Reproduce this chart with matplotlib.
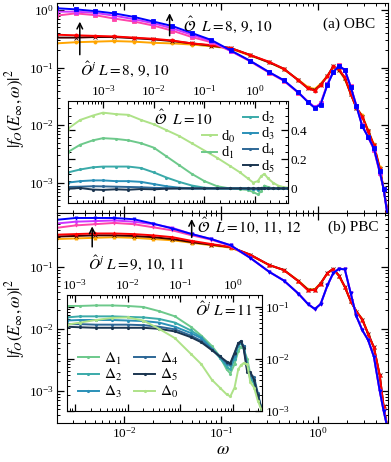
import numpy as np
import matplotlib
matplotlib.use('Agg')
import matplotlib.pyplot as plt
from matplotlib.ticker import LogLocator, NullFormatter, FixedLocator, AutoMinorLocator

plt.rcParams['font.family'] = 'serif'
plt.rcParams['font.serif'] = ['Liberation Serif', 'DejaVu Serif']
plt.rcParams['mathtext.fontset'] = 'stix'

# ---- main panels: log10(omega) grid, log10 |f|^2 values
log_w = [-2.7, -2.5, -2.3, -2.1, -1.9, -1.7, -1.5, -1.3, -1.1, -0.9, -0.7, -0.5, -0.35, -0.2, -0.1,
         -0.03, 0.03, 0.1, 0.16, 0.22, 0.28, 0.34, 0.4, 0.46, 0.52, 0.58, 0.64, 0.68, 0.72]

# (a) OBC
obc_O_L8 = [-0.10, -0.06, -0.09, -0.15, -0.20, -0.27, -0.36, -0.47, -0.56, -0.71, -0.89, -1.09, -1.23, -1.44, -1.59,
            -1.69, -1.62, -1.28, -1.07, -0.96, -1.05, -1.32, -1.66, -2.00, -2.20, -2.42, -2.82, -3.10, -3.55]
obc_O_L9 = [-0.03, -0.03, -0.05, -0.10, -0.16, -0.23, -0.32, -0.43, -0.54, -0.71, -0.88, -1.08, -1.22, -1.43, -1.59,
            -1.69, -1.63, -1.29, -1.08, -0.97, -1.04, -1.33, -1.67, -2.01, -2.20, -2.41, -2.81, -3.10, -3.55]
obc_O_L10 = [0.03, 0.01, -0.02, -0.06, -0.12, -0.20, -0.28, -0.40, -0.52, -0.70, -0.88, -1.08, -1.22, -1.43, -1.60,
             -1.70, -1.64, -1.30, -1.08, -0.97, -1.04, -1.33, -1.67, -2.02, -2.20, -2.40, -2.80, -3.10, -3.55]
obc_Oj_L8 = [-0.58, -0.56, -0.55, -0.54, -0.55, -0.57, -0.58, -0.60, -0.63, -0.67, -0.79, -0.91, -1.03, -1.21, -1.34,
             -1.37, -1.28, -1.14, -0.99, -1.05, -1.20, -1.45, -1.70, -1.83, -2.08, -2.33, -2.72, -3.10, -3.50]
obc_Oj_L9 = [-0.48, -0.48, -0.47, -0.47, -0.49, -0.51, -0.54, -0.58, -0.62, -0.66, -0.78, -0.91, -1.02, -1.22, -1.36,
             -1.39, -1.30, -1.15, -0.98, -1.04, -1.18, -1.45, -1.70, -1.85, -2.10, -2.35, -2.75, -3.10, -3.50]
obc_Oj_L10 = [-0.43, -0.44, -0.45, -0.46, -0.48, -0.50, -0.53, -0.58, -0.61, -0.66, -0.78, -0.90, -1.02, -1.22, -1.36,
              -1.40, -1.30, -1.15, -0.98, -1.03, -1.17, -1.45, -1.70, -1.85, -2.10, -2.35, -2.75, -3.10, -3.50]

# (b) PBC
pbc_O_L10 = [-0.37, -0.33, -0.31, -0.29, -0.31, -0.36, -0.41, -0.49, -0.56, -0.66, -0.85, -1.08, -1.22, -1.43, -1.60,
             -1.68, -1.60, -1.30, -1.10, -1.03, -1.04, -1.42, -1.80, -2.02, -2.18, -2.45, -3.00, -3.32, -3.60]
pbc_O_L11 = [-0.30, -0.27, -0.26, -0.25, -0.27, -0.31, -0.37, -0.47, -0.55, -0.65, -0.85, -1.08, -1.22, -1.43, -1.60,
             -1.68, -1.60, -1.30, -1.10, -1.03, -1.04, -1.42, -1.80, -2.02, -2.18, -2.45, -3.00, -3.32, -3.60]
pbc_O_L12 = [-0.24, -0.21, -0.21, -0.21, -0.23, -0.30, -0.38, -0.47, -0.55, -0.65, -0.85, -1.08, -1.22, -1.43, -1.60,
             -1.68, -1.60, -1.30, -1.10, -1.03, -1.04, -1.42, -1.80, -2.02, -2.18, -2.45, -3.00, -3.32, -3.60]
pbc_Oj_L9 = [-0.55, -0.54, -0.53, -0.52, -0.53, -0.55, -0.57, -0.61, -0.65, -0.69, -0.81, -0.97, -1.05, -1.22, -1.36,
             -1.36, -1.26, -1.10, -1.04, -1.15, -1.33, -1.55, -1.72, -1.84, -2.07, -2.30, -2.75, -3.25, -3.60]
pbc_Oj_L10 = [-0.51, -0.50, -0.49, -0.49, -0.50, -0.52, -0.55, -0.60, -0.64, -0.68, -0.80, -0.97, -1.05, -1.23, -1.37,
              -1.37, -1.27, -1.10, -1.03, -1.14, -1.32, -1.55, -1.72, -1.85, -2.08, -2.30, -2.75, -3.25, -3.60]
pbc_Oj_L11 = [-0.48, -0.47, -0.46, -0.46, -0.47, -0.49, -0.52, -0.58, -0.63, -0.68, -0.80, -0.97, -1.05, -1.23, -1.38,
              -1.37, -1.27, -1.10, -1.03, -1.14, -1.32, -1.55, -1.72, -1.85, -2.08, -2.30, -2.75, -3.25, -3.60]

# ---- inset (a): log10(omega) grid and linear values d_n
log_w_ia = [-3.69, -3.45, -3.2, -3.0, -2.75, -2.5, -2.25, -2.0, -1.75, -1.5, -1.25, -1.0, -0.75, -0.5, -0.3,
            -0.15, -0.04, 0.05, 0.12, 0.18, 0.25, 0.35, 0.45, 0.55, 0.65]
d0 = [0.41, 0.47, 0.50, 0.52, 0.51, 0.505, 0.47, 0.44, 0.40, 0.36, 0.31, 0.26, 0.21, 0.155, 0.11,
      0.07, 0.04, 0.05, 0.085, 0.10, 0.07, 0.04, 0.02, 0.01, 0.005]
d1 = [0.25, 0.30, 0.33, 0.345, 0.34, 0.33, 0.31, 0.28, 0.22, 0.16, 0.10, 0.05, 0.015, 0.0, -0.005,
      -0.01, -0.025, -0.04, -0.02, 0.02, 0.01, 0.0, 0.0, 0.0, 0.0]
d2 = [0.11, 0.13, 0.145, 0.15, 0.15, 0.15, 0.14, 0.11, 0.075, 0.045, 0.02, 0.005, 0.0, 0.0, 0.0,
      -0.003, -0.005, -0.008, 0.0, 0.005, 0.0, 0.0, 0.0, 0.0, 0.0]
d3 = [0.04, 0.05, 0.055, 0.055, 0.05, 0.05, 0.045, 0.03, 0.015, 0.005, 0.0, 0.0, 0.0, 0.0, 0.0,
      0.0, -0.003, -0.004, 0.0, 0.003, 0.0, 0.0, 0.0, 0.0, 0.0]
d4 = [0.01, 0.012, 0.015, 0.014, 0.012, 0.01, 0.008, 0.004, 0.002, 0.0, 0.0, 0.0, 0.0, 0.0, 0.0,
      0.0, 0.0, 0.0, 0.0, 0.0, 0.0, 0.0, 0.0, 0.0, 0.0]
d5 = [-0.002, 0.003, -0.008, -0.01, -0.006, -0.009, -0.004, -0.006, -0.002, 0.0, 0.0, 0.0, 0.0, 0.0, 0.0,
      0.0, 0.0, 0.0, 0.0, 0.0, 0.0, 0.0, 0.0, 0.0, 0.0]

# ---- inset (b): log10(omega) grid and log10 values Delta_n
log_w_ib = [-3.15, -2.9, -2.6, -2.3, -2.0, -1.7, -1.4, -1.1, -0.8, -0.6, -0.4, -0.25, -0.12, -0.05, 0.03,
            0.1, 0.15, 0.2, 0.27, 0.33, 0.4, 0.47, 0.55]
D1 = [-0.98, -0.98, -0.97, -0.97, -0.98, -1.00, -1.08, -1.18, -1.38, -1.55, -1.75, -1.95, -2.20, -2.28, -2.10,
      -1.85, -1.76, -1.80, -2.00, -2.30, -2.50, -2.70, -3.00]
D2 = [-1.20, -1.18, -1.18, -1.18, -1.19, -1.20, -1.23, -1.30, -1.45, -1.58, -1.80, -1.98, -2.15, -2.20, -2.00,
      -1.75, -1.70, -1.75, -2.10, -2.40, -2.45, -2.70, -3.00]
D3 = [-1.26, -1.25, -1.25, -1.25, -1.26, -1.27, -1.30, -1.38, -1.50, -1.60, -1.80, -1.95, -2.10, -2.12, -1.95,
      -1.72, -1.68, -1.75, -2.15, -2.35, -2.40, -2.70, -3.00]
D4 = [-1.33, -1.33, -1.34, -1.34, -1.34, -1.35, -1.38, -1.43, -1.55, -1.65, -1.82, -1.95, -2.07, -2.10, -1.90,
      -1.70, -1.66, -1.75, -2.20, -2.30, -2.35, -2.65, -3.00]
D5 = [-1.38, -1.39, -1.40, -1.40, -1.40, -1.40, -1.42, -1.47, -1.58, -1.68, -1.83, -1.95, -2.05, -2.08, -1.88,
      -1.70, -1.66, -1.78, -2.25, -2.25, -2.40, -2.70, -3.00]
D0 = [-1.34, -1.30, -1.25, -1.21, -1.20, -1.26, -1.42, -1.60, -1.90, -2.10, -2.40, -2.55, -2.68, -2.72, -2.55,
      -2.20, -2.12, -2.08, -2.10, -2.45, -2.55, -2.80, -3.00]

pal = ['#aee288', '#6dc98b', '#3aaaa9', '#2a90b8', '#2d6796', '#1b3550']


def log_ticks(ax):
    ax.set_xscale('log')
    ax.set_yscale('log')
    for a in (ax.xaxis, ax.yaxis):
        a.set_major_locator(LogLocator(base=10, numticks=20))
        a.set_minor_locator(LogLocator(base=10, subs=np.arange(2, 10), numticks=20))
        a.set_minor_formatter(NullFormatter())


def in_ticks(ax):
    ax.tick_params(which='both', direction='in', top=True, right=True, labelsize=9.5, pad=2.5)
    ax.tick_params(which='major', length=5, width=0.9)
    ax.tick_params(which='minor', length=2.5, width=0.7)


fig = plt.figure(figsize=(3.91, 4.62), dpi=100)
ax_a = fig.add_axes([0.146, 0.539, 0.846, 0.4545])
ax_b = fig.add_axes([0.146, 0.0844, 0.846, 0.4545])

w = 10 ** np.array(log_w)
for ax, curves in [(ax_a, [(obc_Oj_L8, '#ffa500', 'o'), (obc_Oj_L9, '#3a0000', 'x'), (obc_Oj_L10, '#ff0000', 'o'),
                           (obc_O_L8, '#ff44aa', 's'), (obc_O_L9, '#cc33ff', 's'), (obc_O_L10, '#0000ff', 's')]),
                   (ax_b, [(pbc_Oj_L9, '#ffa500', '^'), (pbc_Oj_L10, '#3a0000', 'x'), (pbc_Oj_L11, '#ff0000', '^'),
                           (pbc_O_L10, '#ff44aa', 'v'), (pbc_O_L11, '#cc33ff', 'v'), (pbc_O_L12, '#0000ff', 'v')])]:
    for vals, c, m in curves:
        ax.plot(w, 10 ** np.array(vals), color=c, lw=1.4, marker=m, ms=2.2, mew=0.6)
    log_ticks(ax)
    in_ticks(ax)
    ax.set_xlim(2.04e-3, 5.3)
    ax.set_ylabel(r'$|f_{O}(E_{\infty},\omega)|^2$', fontsize=12)
    ax.yaxis.set_label_coords(-0.09, 0.5)

ax_a.set_ylim(10 ** -3.52, 10 ** 0.12)
ax_b.set_ylim(10 ** -3.52, 10 ** -0.13)
ax_a.tick_params(labelbottom=False)
ax_b.set_xlabel(r'$\omega$', fontsize=13, labelpad=0)

# annotations (a)
ax_a.annotate('', xy=(3.5e-3, 0.70), xytext=(3.5e-3, 0.15),
              arrowprops=dict(arrowstyle='->', color='k', lw=1.1))
ax_a.text(0.0102, 0.093, r'$\hat{O}^j\ L = 8,\, 9,\, 10$', fontsize=11, ha='center', va='center')
ax_a.annotate('', xy=(0.0296, 0.98), xytext=(0.0296, 0.32),
              arrowprops=dict(arrowstyle='->', color='k', lw=1.1))
ax_a.text(0.041, 0.56, r'$\hat{\mathcal{O}}\ \ L = 8,\, 9,\, 10$', fontsize=11, ha='left', va='center')
ax_a.text(3.9, 0.56, '(a) OBC', fontsize=11, ha='right', va='center')

# annotations (b)
ax_b.annotate('', xy=(4.7e-3, 0.50), xytext=(4.7e-3, 0.19),
              arrowprops=dict(arrowstyle='->', color='k', lw=1.1))
ax_b.text(0.0135, 0.115, r'$\hat{O}^j\ L = 9,\, 10,\, 11$', fontsize=11, ha='center', va='center')
ax_b.annotate('', xy=(0.05, 0.66), xytext=(0.05, 0.27),
              arrowprops=dict(arrowstyle='->', color='k', lw=1.1))
ax_b.text(0.057, 0.47, r'$\hat{\mathcal{O}}\ \ L = 10,\, 11,\, 12$', fontsize=11, ha='left', va='center')
ax_b.text(4.2, 0.44, '(b) PBC', fontsize=11, ha='right', va='center')

# inset (a)
ia = fig.add_axes([0.174, 0.5606, 0.563, 0.2208])
wa = 10 ** np.array(log_w_ia)
d_all = [d0, d1, d2, d3, d4, d5]
lines_a = []
for i, dv in enumerate(d_all):
    ln, = ia.plot(wa, dv, color=pal[i], lw=1.4, marker='.', ms=2.5, label=r'd$_{%d}$' % i)
    lines_a.append(ln)
ia.set_xscale('log')
ia.xaxis.set_major_locator(LogLocator(base=10, numticks=20))
ia.xaxis.set_minor_locator(LogLocator(base=10, subs=np.arange(2, 10), numticks=20))
ia.xaxis.set_minor_formatter(NullFormatter())
ia.set_xlim(10 ** -3.69, 10 ** 0.65)
ia.set_ylim(-0.1, 0.6)
ia.yaxis.set_major_locator(FixedLocator([0, 0.2, 0.4]))
ia.yaxis.set_minor_locator(AutoMinorLocator(4))
in_ticks(ia)
ia.tick_params(labelleft=False, labelright=True, labelbottom=False, labeltop=True, pad=2)
ia.set_yticklabels(['0', '0.2', '0.4'])
ia.text(0.39, 0.83, r'$\hat{\mathcal{O}}\ \ L = 10$', transform=ia.transAxes, fontsize=11, va='center')
leg_kw = dict(frameon=False, fontsize=10.5, handlelength=1.0, handletextpad=0.25, labelspacing=0.0,
              borderpad=0, borderaxespad=0)
leg1 = ia.legend(handles=lines_a[:2], loc='upper left', bbox_to_anchor=(0.61, 0.73), **leg_kw)
ia.add_artist(leg1)
ia.legend(handles=lines_a[2:], loc='upper left', bbox_to_anchor=(0.795, 0.91), **leg_kw)

# inset (b)
ib = fig.add_axes([0.171, 0.1104, 0.499, 0.251])
wb = 10 ** np.array(log_w_ib)
D_all = [D1, D2, D3, D4, D5, D0]
D_idx = [1, 2, 3, 4, 5, 0]
for vals, k in zip(D_all, D_idx):
    ib.plot(wb, 10 ** np.array(vals), color=pal[k], lw=1.4, marker='.', ms=2.5, label=r'$\Delta_{%d}$' % k)
log_ticks(ib)
in_ticks(ib)
ib.set_xlim(10 ** -3.15, 10 ** 0.55)
ib.set_ylim(10 ** -3.0, 10 ** -0.77)
ib.tick_params(labelleft=False, labelright=True, labelbottom=False, labeltop=True, pad=2)
ib.text(0.95, 0.87, r'$\hat{O}^j\ L = 11$', transform=ib.transAxes, fontsize=11, ha='right', va='center')
ib.legend(loc='lower left', ncol=2, frameon=False, fontsize=11, handlelength=1.4, handletextpad=0.3,
          labelspacing=0.05, columnspacing=0.8, borderpad=0.2)

fig.savefig('out.png', dpi=100)
